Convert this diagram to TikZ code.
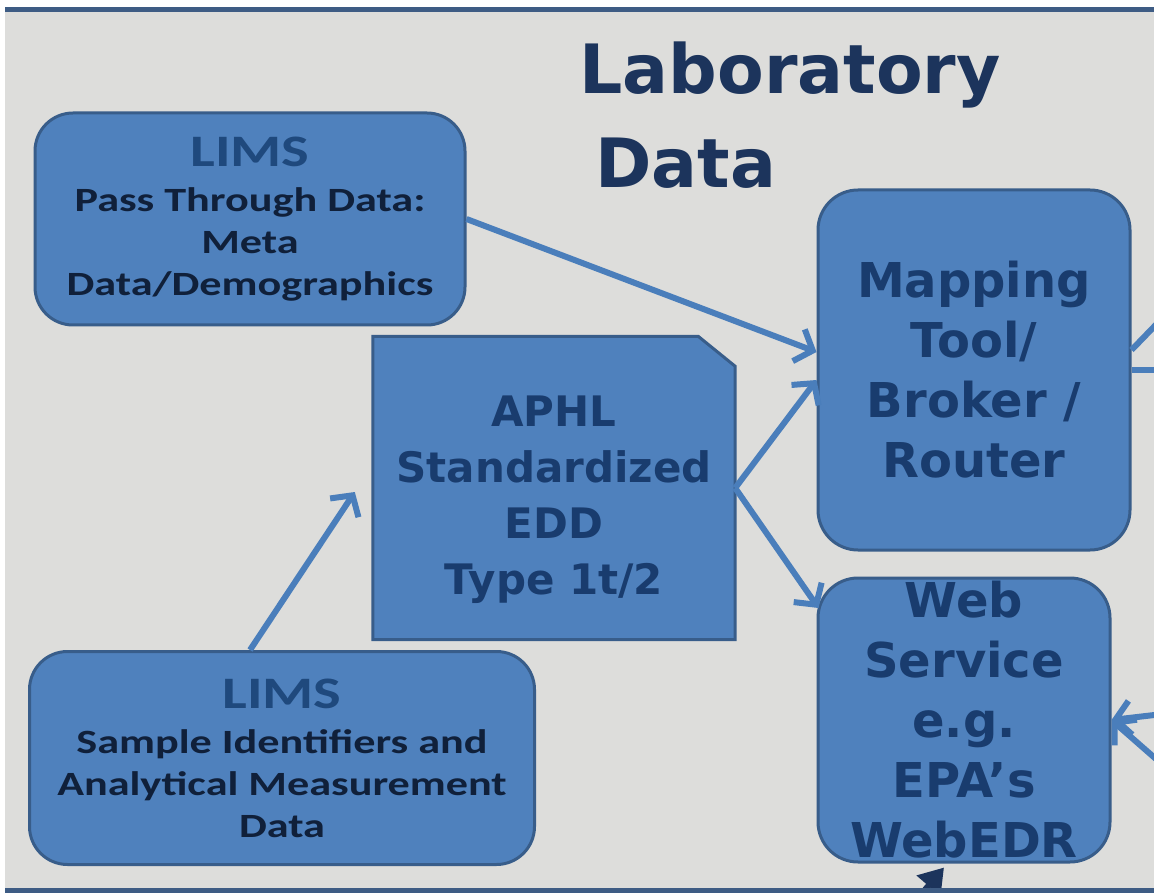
\documentclass[tikz,border=0pt]{standalone}
\usepackage{fontspec}
\newfontfamily\headfont{DejaVu Sans}
\newfontfamily\limsfont[FakeStretch=1.3]{Carlito}
\usetikzlibrary{arrows.meta,positioning}
\definecolor{bggray}    {RGB}{221,221,219}
\definecolor{boxblue}   {RGB}{79,129,189}
\definecolor{boxedge}   {RGB}{56,93,138}
\definecolor{arrowblue} {RGB}{74,126,187}
\definecolor{rulenavy}  {RGB}{62,92,132}
\definecolor{titlenavy} {RGB}{28,52,92}
\definecolor{textnavy}  {RGB}{25,60,110}
\definecolor{limsnavy}  {RGB}{31,73,125}
\definecolor{subnavy}   {RGB}{16,32,58}

\begin{document}
\begin{tikzpicture}[
  x=1pt, y=-1pt,
  limsbox/.style={draw=boxedge, fill=boxblue, line width=3pt,
                  rounded corners=38pt, inner sep=0pt, align=center,
                  text=subnavy,
                  font=\limsfont\bfseries\fontsize{34}{42}\selectfont},
  toolbox/.style={draw=boxedge, fill=boxblue, line width=3pt,
                  rounded corners=40pt, inner sep=0pt, align=center,
                  text=textnavy,
                  font=\headfont\bfseries\fontsize{48}{60}\selectfont},
  eddfill/.style={draw=boxedge, fill=boxblue, line width=3pt},
  eddtext/.style={inner sep=0pt, align=center, text=textnavy,
                  font=\headfont\bfseries\fontsize{42}{56}\selectfont},
  flow/.style={draw=arrowblue, line width=6pt,
               -{Straight Barb[length=15pt,width=34pt]}},
  stub/.style={draw=arrowblue, line width=6pt},
  rulebar/.style={draw=rulenavy, line width=5pt},
]
\useasboundingbox (0,0) rectangle (1154,893);
\clip (0,0) rectangle (1154,893);

%-- background and rules
\fill[bggray] (5,12) rectangle (1154,890);
\draw[rulebar] (5,10) -- (1154,10);

%-- title
\node[anchor=base west, text=titlenavy,
      font=\headfont\bfseries\fontsize{68}{94}\selectfont]
  (title1) at (576,94) {Laboratory};
\node[anchor=base west, text=titlenavy,
      font=\headfont\bfseries\fontsize{68}{94}\selectfont]
  (title2) at (592,188) {Data};

%-- boxes
\node[limsbox, minimum width=430pt, minimum height=212pt] (lims1) at (250,219)
  {{\color{limsnavy}\fontsize{45}{42}\selectfont LIMS}\\[3pt]
   Pass Through Data:\\Meta\\Data/Demographics};

\node[minimum width=362pt, minimum height=303pt, inner sep=0pt] (edd) at (554,488) {};
\draw[eddfill] (edd.south west) -- (edd.north west)
  -- ([xshift=-37pt]edd.north east) -- ([yshift=-30pt]edd.north east)
  -- (edd.south east) -- cycle;
\node[eddtext] (eddlabel) at ([yshift=-12pt]edd.center)
  {APHL\\Standardized\\EDD\\Type 1t/2};

\node[toolbox, minimum width=312pt, minimum height=360pt] (map) at (974,370)
  {Mapping\\Tool/\\Broker /\\Router};
\node[toolbox, minimum width=292pt, minimum height=284pt] (web) at (964,720)
  {Web\\Service\\e.g.\\EPA’s\\WebEDR};
\node[limsbox, minimum width=505pt, minimum height=213pt] (lims2) at (282,758)
  {{\color{limsnavy}\fontsize{45}{42}\selectfont LIMS}\\[3pt]
   Sample Identifiers and\\Analytical Measurement\\Data};

%-- free ends past the frame
\coordinate (out1) at (1175,305);
\coordinate (out2) at (1175,370);
\coordinate (in1)  at (1180,712);
\coordinate (in2)  at (1180,780);
\coordinate (in3)  at (912,905);

%-- connectors
\draw[flow] (lims1.east) -- ([yshift=18pt]map.west);
\draw[flow] (edd.east) -- ([yshift=-10pt]map.west);
\draw[flow] (edd.east) -- ([xshift=2pt,yshift=112pt]web.west);
\draw[flow] ([xshift=-32pt]lims2.north) -- ([xshift=-18pt,yshift=-4pt]edd.west);
\draw[stub] ([yshift=20pt]map.east) -- (out1);
\draw[stub] (map.east) -- (out2);
\draw[flow] (in1) -- (web.east);
\draw[flow] (in2) -- (web.east);
\draw[draw=titlenavy, line width=6pt, -{Triangle[length=24pt,width=30pt]}]
  (in3) -- ([xshift=-20pt,yshift=-4pt]web.south);

\draw[rulebar] (5,890) -- (1154,890);
\end{tikzpicture}
\end{document}
